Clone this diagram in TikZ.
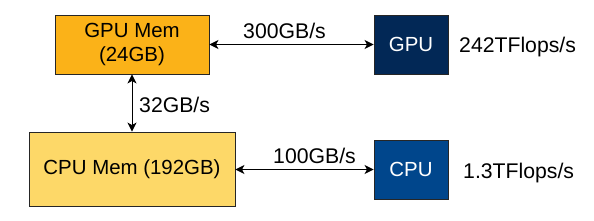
\documentclass[tikz,border=0pt]{standalone}
\usepackage{fontspec}
\setmainfont{Liberation Sans}
\usetikzlibrary{arrows.meta}
\definecolor{gpumemc}{RGB}{251,178,24}
\definecolor{cpumemc}{RGB}{253,216,104}
\definecolor{gpuc}{RGB}{2,40,86}
\definecolor{cpuc}{RGB}{0,70,140}
\tikzset{
  box/.style={draw=black!85, line width=0.9bp, inner sep=0pt, align=center, font=\fontsize{20.5}{24}\selectfont},
  lbl/.style={inner sep=0pt, anchor=base west, font=\fontsize{21.3}{25}\selectfont},
  conn/.style={line width=0.9bp, {Stealth[length=9bp,width=9bp,inset=2.5bp]}-{Stealth[length=9bp,width=9bp,inset=2.5bp]}}
}
\begin{document}
\begin{tikzpicture}[x=1bp,y=-1bp]
\useasboundingbox (0,0) rectangle (594,220);
\node[box, fill=gpumemc, minimum width=154bp, minimum height=59bp] (gm) at (132,44.5) {GPU Mem\\(24GB)};
\node[box, fill=gpuc, text=white, minimum width=74bp, minimum height=59bp] (g) at (411,44.5) {GPU};
\node[box, fill=cpumemc, minimum width=206bp, minimum height=74bp] (cm) at (132,169) {CPU Mem (192GB)};
\node[box, fill=cpuc, text=white, minimum width=74bp, minimum height=59bp] (c) at (411,169.5) {CPU};
\draw[conn] (gm) -- (g);
\draw[conn] (cm.east |- c) -- (c);
\draw[conn] (gm) -- (cm);
\node[lbl] (l1) at (243,38) {300GB/s};
\node[lbl] (l2) at (273,163) {100GB/s};
\node[lbl] (l3) at (139,112) {32GB/s};
\node[lbl] (l4) at (459,52) {242TFlops/s};
\node[lbl] (l5) at (463,178) {1.3TFlops/s};
\end{tikzpicture}
\end{document}
